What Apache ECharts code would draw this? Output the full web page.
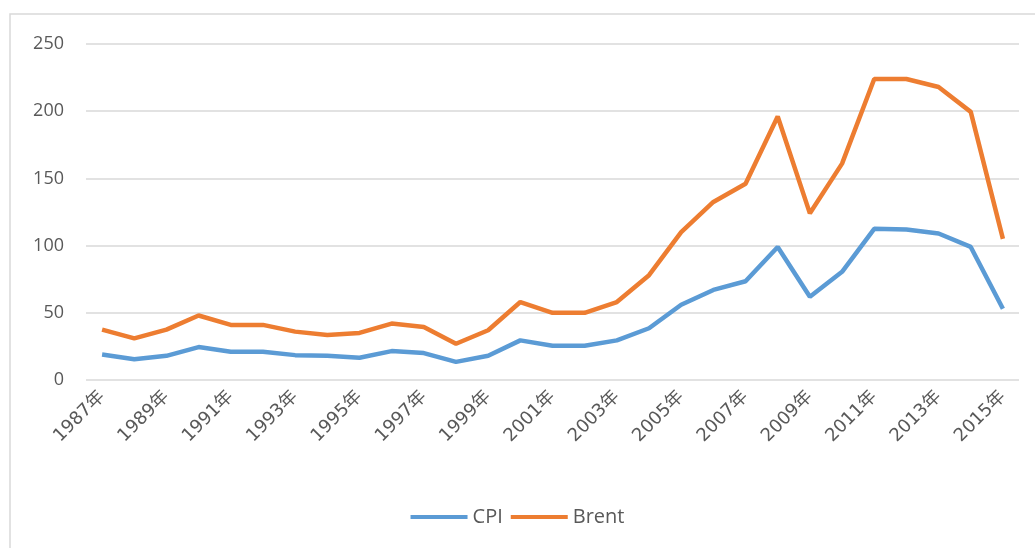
<!DOCTYPE html>
<html>
<head>
<meta charset="utf-8">
<script src="https://cdn.jsdelivr.net/npm/echarts@6/dist/echarts.min.js"></script>
<style>
html,body{margin:0;padding:0;background:#fff;}
#c{width:1035px;height:548px;}
</style>
</head>
<body>
<div id="c"></div>
<script>
const years = ['1987年','1988年','1989年','1990年','1991年','1992年','1993年','1994年','1995年','1996年',
  '1997年','1998年','1999年','2000年','2001年','2002年','2003年','2004年','2005年','2006年',
  '2007年','2008年','2009年','2010年','2011年','2012年','2013年','2014年','2015年'];
const cpi = [19, 15.5, 18, 24.5, 21, 21, 18.5, 18, 16.5, 21.5,
  20, 13.5, 18, 29.5, 25.5, 25.5, 29.5, 38.5, 56, 67,
  73.5, 99, 62, 80.5, 112.5, 112, 109, 99, 53];
const brent = [37.5, 31, 37.5, 48, 41, 41, 36, 33.5, 35, 42,
  39.5, 27, 37, 58, 50, 50, 58, 78, 110, 132.5,
  146, 196, 124, 161, 224, 224, 218, 199.5, 105];
const yTicks = [0, 50, 100, 150, 200, 250];

const chart = echarts.init(document.getElementById('c'));
const font = '"Open Sans","Noto Sans CJK SC",sans-serif';
const xfont = '"DejaVu Sans","Noto Sans CJK SC",sans-serif';
chart.setOption({
  backgroundColor: '#fff',
  animation: false,
  graphic: [{
    type: 'rect', shape: {x: 10, y: 14, width: 1040, height: 560},
    style: {fill: 'none', stroke: '#d9d9d9', lineWidth: 1.5}, silent: true, z: -1
  }],
  grid: {left: 86, right: 16, top: 44, bottom: 168, containLabel: false},
  legend: {
    data: ['CPI', 'Brent'], bottom: 16, left: 'center',
    icon: 'rect', itemWidth: 57, itemHeight: 4, itemGap: 8,
    textStyle: {color: '#595959', fontSize: 20, fontFamily: font}
  },
  xAxis: {
    type: 'category', data: years, boundaryGap: true,
    axisLine: {show: false}, axisTick: {show: false},
    axisLabel: {interval: 1, rotate: 45, color: '#595959', fontSize: 18, fontFamily: xfont, margin: 14}
  },
  yAxis: {
    type: 'value', min: yTicks[0], max: yTicks[yTicks.length - 1], interval: 50,
    axisLine: {show: false}, axisTick: {show: false},
    axisLabel: {color: '#595959', fontSize: 18, fontFamily: font, margin: 22},
    splitLine: {lineStyle: {color: '#d9d9d9', width: 1.5}}
  },
  series: [
    {name: 'CPI', type: 'line', data: cpi, symbol: 'none', lineStyle: {color: '#5B9BD5', width: 4.5}, itemStyle: {color: '#5B9BD5'}},
    {name: 'Brent', type: 'line', data: brent, symbol: 'none', lineStyle: {color: '#ED7D31', width: 4.5}, itemStyle: {color: '#ED7D31'}}
  ]
});
</script>
</body>
</html>
